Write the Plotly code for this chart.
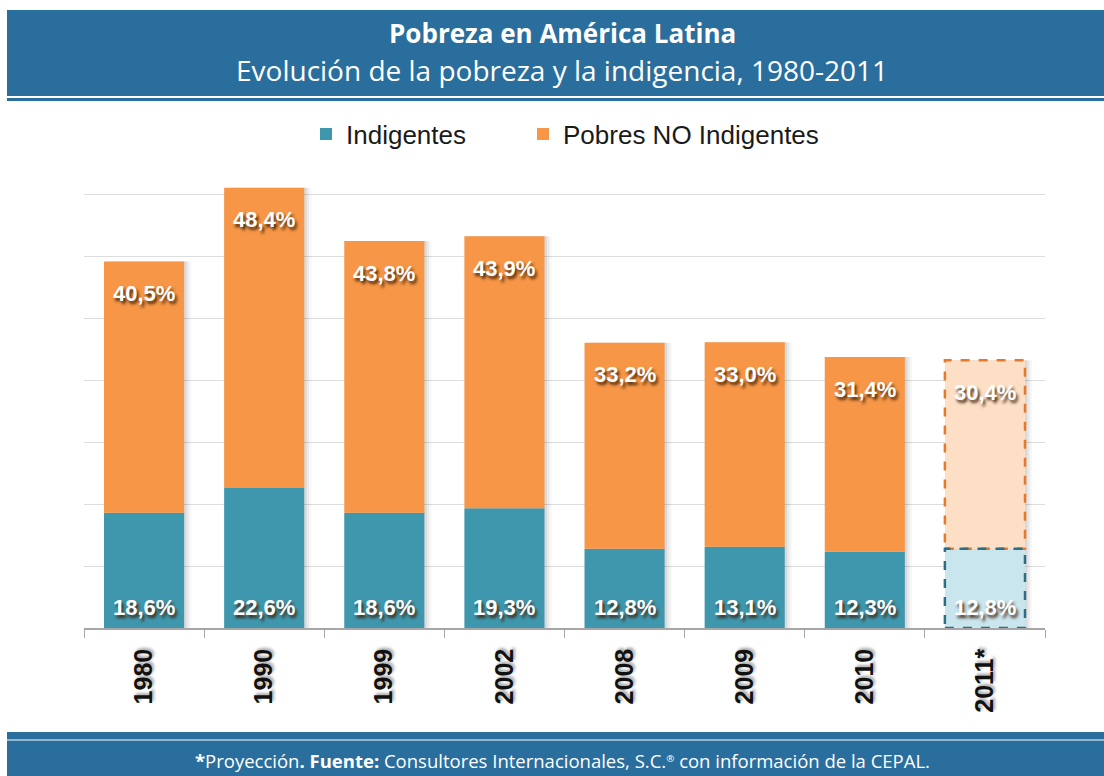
import plotly.graph_objects as go

# ---- data ----
years = ["1980", "1990", "1999", "2002", "2008", "2009", "2010", "2011*"]
indigentes = [18.6, 22.6, 18.6, 19.3, 12.8, 13.1, 12.3, 12.8]
pobres_no_indigentes = [40.5, 48.4, 43.8, 43.9, 33.2, 33.0, 31.4, 30.4]
projected = [False, False, False, False, False, False, False, True]

title = "Pobreza en América Latina"
subtitle = "Evolución de la pobreza y la indigencia, 1980-2011"
footer = ("<b>*</b>Proyección<b>. Fuente:</b> Consultores Internacionales, "
          "S.C.<span style='font-size:14px'><sup>®</sup></span> con información de la CEPAL.")

# ---- styling ----
W, H = 1104, 776
ML, MR, MT, MB = 84, 59, 163, 148
PW, PH = W - ML - MR, H - MT - MB
BLUE = "#2A6E9D"
TEAL = "#3F97AE"
ORANGE = "#F79646"
TEAL_LIGHT = "#C9E5EE"
ORANGE_LIGHT = "#FDDFC6"
BAR_W = 0.667


def px(x):
    return (x - ML) / PW


def py(y):
    return (H - MB - y) / PH


def fmt(v):
    return f"{v:.1f}".replace(".", ",") + "%"


xpos = list(range(len(years)))
totals = [a + b for a, b in zip(indigentes, pobres_no_indigentes)]
teal_colors = [TEAL_LIGHT if p else TEAL for p in projected]
orange_colors = [ORANGE_LIGHT if p else ORANGE for p in projected]

fig = go.Figure()

# soft shadow behind bars
for k, a in enumerate([0.07, 0.05, 0.03]):
    fig.add_trace(go.Bar(
        x=xpos, y=totals, base=0, width=BAR_W, offset=-BAR_W / 2 + 0.02 + 0.02 * k,
        marker=dict(color=f"rgba(0,0,0,{a})", line=dict(width=0)),
        showlegend=False, hoverinfo="skip",
    ))
fig.add_trace(go.Bar(
    x=xpos, y=indigentes, base=0, width=BAR_W, offset=-BAR_W / 2,
    name="Indigentes", marker=dict(color=teal_colors, line=dict(width=0)),
    legend="legend",
))
fig.add_trace(go.Bar(
    x=xpos, y=pobres_no_indigentes, base=indigentes, width=BAR_W, offset=-BAR_W / 2,
    name="Pobres NO Indigentes", marker=dict(color=orange_colors, line=dict(width=0)),
    legend="legend2",
))

label_font = dict(family="Liberation Sans, Arial", size=22, color="white", weight="bold",
                  shadow="2px 3px 3px rgba(60,30,5,0.9)")
annotations = []
for xi, ind, tot in zip(xpos, indigentes, totals):
    annotations.append(dict(x=xi, y=0, xref="x", yref="y", text=fmt(ind), showarrow=False,
                            xanchor="center", yanchor="middle", yshift=21, font=label_font))
    annotations.append(dict(x=xi, y=tot, xref="x", yref="y",
                            text=fmt(tot - ind), showarrow=False,
                            xanchor="center", yanchor="middle", yshift=-32, font=label_font))

# header / footer text
annotations += [
    dict(x=px(562), y=py(33), xref="paper", yref="paper", text="<b>" + title + "</b>",
         showarrow=False, xanchor="center", yanchor="middle",
         font=dict(family="Open Sans", size=26, color="white")),
    dict(x=px(562), y=py(70), xref="paper", yref="paper", text=subtitle,
         showarrow=False, xanchor="center", yanchor="middle",
         font=dict(family="Open Sans", size=28, color="white")),
    dict(x=px(562), y=py(760), xref="paper", yref="paper", text=footer,
         showarrow=False, xanchor="center", yanchor="middle",
         font=dict(family="Open Sans", size=18.5, color="white")),
]

shapes = [
    dict(type="rect", xref="paper", yref="paper", x0=px(7), x1=px(1104), y0=py(10), y1=py(96),
         fillcolor=BLUE, line=dict(width=0), layer="below"),
    dict(type="rect", xref="paper", yref="paper", x0=px(7), x1=px(1104), y0=py(98), y1=py(101),
         fillcolor=BLUE, line=dict(width=0), layer="below"),
    dict(type="rect", xref="paper", yref="paper", x0=px(7), x1=px(1104), y0=py(732), y1=py(776),
         fillcolor=BLUE, line=dict(width=0), layer="below"),
    dict(type="line", xref="paper", yref="paper", x0=px(7), x1=px(1104), y0=py(740), y1=py(740),
         line=dict(color="white", width=1)),
]

# dashed outlines for projected bars
for i, p in enumerate(projected):
    if not p:
        continue
    x0, x1 = xpos[i] - BAR_W / 2, xpos[i] + BAR_W / 2
    shapes.append(dict(type="rect", xref="x", yref="y", x0=x0, x1=x1,
                       y0=indigentes[i], y1=totals[i],
                       line=dict(color="#E8792A", width=2.5, dash="dash")))
    shapes.append(dict(type="rect", xref="x", yref="y", x0=x0, x1=x1,
                       y0=0, y1=indigentes[i],
                       line=dict(color="#2F6E82", width=2.5, dash="dash")))

legend_font = dict(family="Liberation Sans, Arial", size=26, color="#1a1a1a")
fig.update_layout(
    width=W, height=H, autosize=False,
    margin=dict(l=ML, r=MR, t=MT, b=MB, pad=0),
    paper_bgcolor="white", plot_bgcolor="white",
    barmode="overlay",
    showlegend=True,
    legend=dict(orientation="h", x=px(306), y=py(134), xanchor="left", yanchor="middle",
                font=legend_font, itemwidth=30, bgcolor="rgba(0,0,0,0)"),
    legend2=dict(orientation="h", x=px(523), y=py(134), xanchor="left", yanchor="middle",
                 font=legend_font, itemwidth=30, bgcolor="rgba(0,0,0,0)"),
    xaxis=dict(range=[-0.5, len(years) - 0.5], tickvals=xpos, ticktext=years,
               showline=True, linecolor="#A6A6A6", linewidth=1.5,
               ticks="", tickangle=-90, showgrid=False, zeroline=False,
               minor=dict(tick0=-0.5, dtick=1, ticks="outside", ticklen=8,
                          tickcolor="#A6A6A6", showgrid=False),
               ticklabelstandoff=9,
               tickfont=dict(family="Liberation Sans, Arial", size=25, color="#111111",
                             weight="bold", shadow="2px 2px 3px rgba(0,0,0,0.35)")),
    yaxis=dict(range=[0, 75], dtick=10, showticklabels=False, showgrid=True,
               gridcolor="#DDDDDD", gridwidth=1, zeroline=False, showline=False),
    annotations=annotations,
    shapes=shapes,
)

fig.write_html("out.html", config={"displayModeBar": False},
               post_script="document.body.style.margin='0';")
